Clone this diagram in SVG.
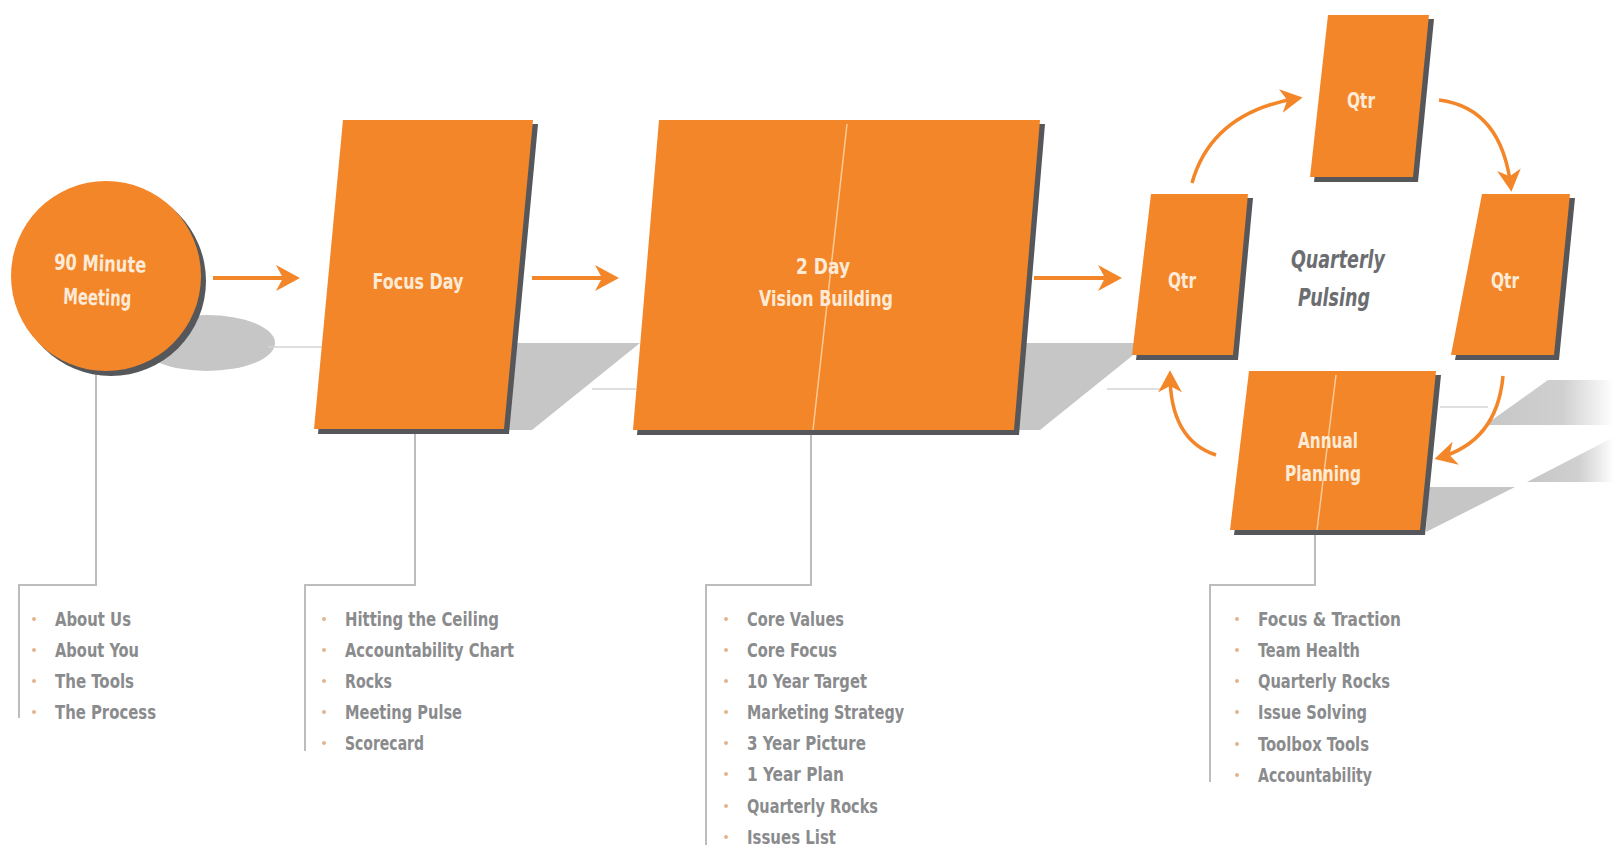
<svg xmlns="http://www.w3.org/2000/svg" width="1614" height="850" viewBox="0 0 1614 850">
<defs>
<style>
.panel{fill:#F4862A}
.edge{fill:#55575b}
.shadow{fill:#c6c6c6}
.floor{stroke:#d4d4d4;stroke-width:1.5;fill:none}
.conn{stroke:#bdbdbd;stroke-width:2;fill:none}
.seam{stroke:#fbc896;stroke-width:1.5;fill:none}
.flow{stroke:#F4862A;stroke-width:4;fill:none}
.cyc{stroke:#F4862A;stroke-width:3.5;fill:none}
.lbl{font-family:"Liberation Sans Narrow","DejaVu Sans Condensed","Roboto",sans-serif;font-weight:bold;font-size:22px;fill:#fdebd8;text-anchor:middle}
.qp{font-family:"Liberation Sans Narrow","DejaVu Sans Condensed","Roboto",sans-serif;font-weight:bold;font-style:italic;font-size:25px;fill:#6b6d70;text-anchor:middle}
.item{font-family:"Liberation Sans Narrow","DejaVu Sans Condensed","Roboto",sans-serif;font-weight:bold;font-size:20px;fill:#8a8b8d}
.bul{fill:#e2b48e}
</style>
<marker id="ah" viewBox="0 0 24 26" refX="20" refY="13" markerWidth="24" markerHeight="26" markerUnits="userSpaceOnUse" orient="auto">
<path d="M0,0 L24,13 L0,26 L7,13 Z" fill="#F4862A"/>
</marker>
<marker id="ahs" viewBox="0 0 24 26" refX="20" refY="13" markerWidth="22" markerHeight="24" markerUnits="userSpaceOnUse" orient="auto">
<path d="M0,0 L24,13 L0,26 L7,13 Z" fill="#F4862A"/>
</marker>
<linearGradient id="fadeR" x1="0" y1="0" x2="1" y2="0">
<stop offset="0" stop-color="#c6c6c6"/>
<stop offset="0.6" stop-color="#d0d0d0"/>
<stop offset="1" stop-color="#ffffff"/>
</linearGradient>
</defs>
<rect x="0" y="0" width="1614" height="850" fill="#ffffff"/>

<g id="shadows">
<ellipse class="shadow" cx="207" cy="343" rx="68" ry="28"/>
<polygon class="shadow" points="510,343 640,343 532,430 505,430"/>
<polygon class="shadow" points="1022,343 1142,343 1132,356 1040,430 1012,430"/>
<polygon fill="url(#fadeR)" points="1548,380 1614,380 1614,425 1485,425"/>
<polygon fill="url(#fadeR)" points="1527,482 1614,437 1614,482"/>
<polygon class="shadow" points="1428,487 1515,487 1426,532"/>
<line class="floor" x1="268" y1="347" x2="322" y2="347"/>
<line class="floor" x1="592" y1="389" x2="636" y2="389"/>
<line class="floor" x1="1107" y1="389" x2="1162" y2="389"/>
<line class="floor" x1="1440" y1="407" x2="1488" y2="407"/>
</g>

<g id="connectors">
<line class="flow" x1="213" y1="278" x2="296" y2="278" marker-end="url(#ah)"/>
<line class="flow" x1="532" y1="278" x2="615" y2="278" marker-end="url(#ah)"/>
<line class="flow" x1="1034" y1="278" x2="1118" y2="278" marker-end="url(#ah)"/>
<path class="cyc" d="M1192,183 Q1212,112 1299,98" marker-end="url(#ahs)"/>
<path class="cyc" d="M1439,100 Q1502,108 1511,188" marker-end="url(#ahs)"/>
<path class="cyc" d="M1503,376 Q1497,442 1438,458" marker-end="url(#ahs)"/>
<path class="cyc" d="M1216,455 Q1170,440 1170,374" marker-end="url(#ahs)"/>
<polyline class="conn" points="96,372 96,585 19,585 19,718"/>
<polyline class="conn" points="415,432 415,585 305,585 305,751"/>
<polyline class="conn" points="811,432 811,585 706,585 706,845"/>
<polyline class="conn" points="1315,532 1315,585 1210,585 1210,782"/>
</g>

<g id="n-90min">
<circle class="edge" cx="111" cy="281" r="95"/>
<circle class="panel" cx="106" cy="276" r="95"/>
<text class="lbl" x="100" y="271" textLength="92" lengthAdjust="spacingAndGlyphs" transform="rotate(2 100 271)">90 Minute</text>
<text class="lbl" x="97" y="305" textLength="68" lengthAdjust="spacingAndGlyphs" transform="rotate(2 97 305)">Meeting</text>
</g>

<g id="n-focus">
<polygon class="edge" points="347,124 538,124 509,434 318,434"/>
<polygon class="panel" points="343,120 533,120 504,429 314,429"/>
<text class="lbl" x="418" y="289" textLength="91" lengthAdjust="spacingAndGlyphs">Focus Day</text>
</g>

<g id="n-vision">
<polygon class="edge" points="663,124 1045,124 1019,435 637,435"/>
<polygon class="panel" points="659,120 1040,120 1014,430 633,430"/>
<line class="seam" x1="847" y1="124" x2="813" y2="430"/>
<text class="lbl" x="823" y="274" textLength="54" lengthAdjust="spacingAndGlyphs">2 Day</text>
<text class="lbl" x="826" y="306" textLength="134" lengthAdjust="spacingAndGlyphs">Vision Building</text>
</g>

<g id="n-qtr-left">
<polygon class="edge" points="1155,198 1253,198 1238,360 1136,360"/>
<polygon class="panel" points="1151,194 1248,194 1233,355 1132,355"/>
<text class="lbl" x="1182" y="288" textLength="28" lengthAdjust="spacingAndGlyphs">Qtr</text>
</g>

<g id="n-qtr-top">
<polygon class="edge" points="1332,19 1434,19 1418,182 1314,182"/>
<polygon class="panel" points="1328,15 1429,15 1413,177 1310,177"/>
<text class="lbl" x="1361" y="108" textLength="28" lengthAdjust="spacingAndGlyphs">Qtr</text>
</g>

<g id="n-qtr-right">
<polygon class="edge" points="1486,198 1575,198 1559,360 1455,360"/>
<polygon class="panel" points="1482,194 1570,194 1554,355 1451,355"/>
<text class="lbl" x="1505" y="288" textLength="28" lengthAdjust="spacingAndGlyphs">Qtr</text>
</g>

<g id="n-pulsing">
<text class="qp" x="1338" y="268" textLength="94" lengthAdjust="spacingAndGlyphs">Quarterly</text>
<text class="qp" x="1334" y="306" textLength="72" lengthAdjust="spacingAndGlyphs">Pulsing</text>
</g>

<g id="n-annual">
<polygon class="edge" points="1253,375 1441,375 1425,535 1234,535"/>
<polygon class="panel" points="1249,371 1436,371 1420,530 1230,530"/>
<line class="seam" x1="1336" y1="375" x2="1317" y2="530"/>
<text class="lbl" x="1328" y="448" textLength="60" lengthAdjust="spacingAndGlyphs">Annual</text>
<text class="lbl" x="1323" y="481" textLength="76" lengthAdjust="spacingAndGlyphs">Planning</text>
</g>

<g id="list-90min">
<circle class="bul" cx="34" cy="619" r="2"/><text class="item" x="55" y="626" textLength="76" lengthAdjust="spacingAndGlyphs">About Us</text>
<circle class="bul" cx="34" cy="650" r="2"/><text class="item" x="55" y="657" textLength="84" lengthAdjust="spacingAndGlyphs">About You</text>
<circle class="bul" cx="34" cy="681" r="2"/><text class="item" x="55" y="688" textLength="79" lengthAdjust="spacingAndGlyphs">The Tools</text>
<circle class="bul" cx="34" cy="712" r="2"/><text class="item" x="55" y="719" textLength="101" lengthAdjust="spacingAndGlyphs">The Process</text>
</g>

<g id="list-focus">
<circle class="bul" cx="324" cy="619" r="2"/><text class="item" x="345" y="626" textLength="154" lengthAdjust="spacingAndGlyphs">Hitting the Ceiling</text>
<circle class="bul" cx="324" cy="650" r="2"/><text class="item" x="345" y="657" textLength="169" lengthAdjust="spacingAndGlyphs">Accountability Chart</text>
<circle class="bul" cx="324" cy="681" r="2"/><text class="item" x="345" y="688" textLength="47" lengthAdjust="spacingAndGlyphs">Rocks</text>
<circle class="bul" cx="324" cy="712" r="2"/><text class="item" x="345" y="719" textLength="117" lengthAdjust="spacingAndGlyphs">Meeting Pulse</text>
<circle class="bul" cx="324" cy="743" r="2"/><text class="item" x="345" y="750" textLength="79" lengthAdjust="spacingAndGlyphs">Scorecard</text>
</g>

<g id="list-vision">
<circle class="bul" cx="726" cy="619" r="2"/><text class="item" x="747" y="626" textLength="97" lengthAdjust="spacingAndGlyphs">Core Values</text>
<circle class="bul" cx="726" cy="650" r="2"/><text class="item" x="747" y="657" textLength="90" lengthAdjust="spacingAndGlyphs">Core Focus</text>
<circle class="bul" cx="726" cy="681" r="2"/><text class="item" x="747" y="688" textLength="120" lengthAdjust="spacingAndGlyphs">10 Year Target</text>
<circle class="bul" cx="726" cy="712" r="2"/><text class="item" x="747" y="719" textLength="157" lengthAdjust="spacingAndGlyphs">Marketing Strategy</text>
<circle class="bul" cx="726" cy="743" r="2"/><text class="item" x="747" y="750" textLength="119" lengthAdjust="spacingAndGlyphs">3 Year Picture</text>
<circle class="bul" cx="726" cy="774" r="2"/><text class="item" x="747" y="781" textLength="97" lengthAdjust="spacingAndGlyphs">1 Year Plan</text>
<circle class="bul" cx="726" cy="806" r="2"/><text class="item" x="747" y="813" textLength="131" lengthAdjust="spacingAndGlyphs">Quarterly Rocks</text>
<circle class="bul" cx="726" cy="837" r="2"/><text class="item" x="747" y="844" textLength="89" lengthAdjust="spacingAndGlyphs">Issues List</text>
</g>

<g id="list-annual">
<circle class="bul" cx="1237" cy="619" r="2"/><text class="item" x="1258" y="626" textLength="143" lengthAdjust="spacingAndGlyphs">Focus &amp; Traction</text>
<circle class="bul" cx="1237" cy="650" r="2"/><text class="item" x="1258" y="657" textLength="102" lengthAdjust="spacingAndGlyphs">Team Health</text>
<circle class="bul" cx="1237" cy="681" r="2"/><text class="item" x="1258" y="688" textLength="132" lengthAdjust="spacingAndGlyphs">Quarterly Rocks</text>
<circle class="bul" cx="1237" cy="712" r="2"/><text class="item" x="1258" y="719" textLength="109" lengthAdjust="spacingAndGlyphs">Issue Solving</text>
<circle class="bul" cx="1237" cy="744" r="2"/><text class="item" x="1258" y="751" textLength="111" lengthAdjust="spacingAndGlyphs">Toolbox Tools</text>
<circle class="bul" cx="1237" cy="775" r="2"/><text class="item" x="1258" y="782" textLength="114" lengthAdjust="spacingAndGlyphs">Accountability</text>
</g>
</svg>
